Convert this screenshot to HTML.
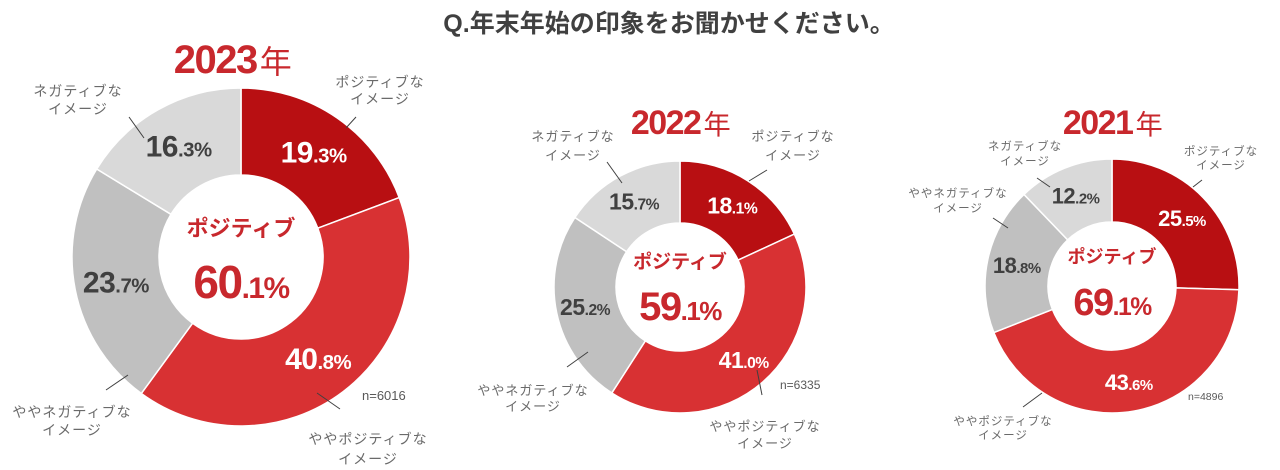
<!DOCTYPE html>
<html><head><meta charset="utf-8">
<style>
html,body{margin:0;padding:0;background:#fff;width:1280px;height:470px;overflow:hidden}
svg{display:block}
text{font-family:"Liberation Sans","Noto Sans CJK JP",sans-serif}
.cat{fill:#6a6a6a;font-weight:normal;letter-spacing:1px}
</style></head>
<body>
<svg id="chart" width="1280" height="470" viewBox="0 0 1280 470">
<text x="669" y="32" text-anchor="middle" font-size="25" font-weight="bold" fill="#404040">Q.年末年始の印象をお聞かせください。</text>
<g id="charts"></g>
</svg>
<script>
const years = ["2023", "2022", "2021"];
const categories = ["ポジティブなイメージ", "ややポジティブなイメージ", "ややネガティブなイメージ", "ネガティブなイメージ"];
const values2023 = [19.3, 40.8, 23.7, 16.3];
const values2022 = [18.1, 41.0, 25.2, 15.7];
const values2021 = [25.5, 43.6, 18.8, 12.2];
const positiveTotals = ["60.1", "59.1", "69.1"];
const sampleSizes = ["n=6016", "n=6335", "n=4896"];
const colors = ["#b80f12", "#d83133", "#c0c0c0", "#d9d9d9"];
const labelColors = ["#fff", "#fff", "#404040", "#404040"];

const layouts = [
  {cx:241, cy:257, r:169, ri:82, pct:30, yearSize:40, yearX:232, yearY:73, posY:236, posSize:22, bigY:298, bigSize:46, cat:14,
   cats:[[380,83,100],[368,440,460],[72,413,431],[78,92,110]],
   lines:[[346,128,356,117],[317,393,340,409],[106,390,128,375],[129,117,144,138]], n:[362,400]},
  {cx:680, cy:287, r:126, ri:64, pct:23, yearSize:34, yearX:680, yearY:134, posY:268, posSize:19, bigY:320, bigSize:40, cat:13,
   cats:[[793,137,156],[765,427,444],[533,391,407],[573,137,156]],
   lines:[[767,170,749,181],[757,370,762,395],[567,367,588,352],[607,162,622,183]], n:[780,389]},
  {cx:1112, cy:286, r:127, ri:64, pct:22, yearSize:34, yearX:1112, yearY:134, posY:263, posSize:18, bigY:315, bigSize:38, cat:11.5,
   cats:[[1221,151,165],[1003,421,435],[958,193,208],[1025,146,161]],
   lines:[[1202,180,1193,187],[1042,393,1023,407],[993,218,1008,228],[1037,178,1050,187]], n:[1188,400]}
];
const allValues = [values2023, values2022, values2021];
const NS = "http://www.w3.org/2000/svg";
const root = document.getElementById("charts");
function mk(tag, attrs, parent){const e=document.createElementNS(NS,tag);for(const k in attrs)e.setAttribute(k,attrs[k]);parent.appendChild(e);return e;}
function pt(cx,cy,r,a){return [cx+r*Math.sin(a), cy-r*Math.cos(a)];}

years.forEach((yr, ci) => {
  const L = layouts[ci], vals = allValues[ci];
  const g = mk("g", {}, root);
  
  
  const total = vals.reduce((a,b)=>a+b,0);
  let acc = 0;
  vals.forEach((v, i) => {
    const a0 = acc/total*2*Math.PI, a1 = (acc+v)/total*2*Math.PI; acc += v;
    const large = (a1-a0) > Math.PI ? 1 : 0;
    const p0=pt(L.cx,L.cy,L.r,a0), p1=pt(L.cx,L.cy,L.r,a1), q1=pt(L.cx,L.cy,L.ri,a1), q0=pt(L.cx,L.cy,L.ri,a0);
    const d = `M${p0} A${L.r},${L.r} 0 ${large} 1 ${p1} L${q1} A${L.ri},${L.ri} 0 ${large} 0 ${q0} Z`;
    const s = mk("path", {d:d, fill:colors[i], stroke:"#fff", "stroke-width":1.5}, g);
    
    
    const am = (a0+a1)/2, lp = pt(L.cx,L.cy,(L.r+L.ri)/2+2,am);
    const t = mk("text", {x:lp[0], y:lp[1]+L.pct*0.35, "text-anchor":"middle", "font-weight":"bold", fill:labelColors[i], "font-size":L.pct, "letter-spacing":"-0.5"}, g);
    
    
    const parts = v.toFixed(1).split(".");
    const t1 = mk("tspan", {}, t); t1.textContent = parts[0];
    const t2 = mk("tspan", {"font-size":L.pct*0.68}, t); t2.textContent = "." + parts[1] + "%";
    const c = L.cats[i], name = categories[i];
    const split = name.indexOf("イメージ");
    const c1 = mk("text", {x:c[0], y:c[1]+4, "text-anchor":"middle", "font-size":L.cat, class:"cat"}, g);
    
    
    c1.textContent = name.slice(0, split);
    const c2 = mk("text", {x:c[0], y:c[2]+4, "text-anchor":"middle", "font-size":L.cat, class:"cat"}, g);
    
    
    c2.textContent = name.slice(split);
    const ln = L.lines[i];
    const l = mk("line", {x1:ln[0], y1:ln[1], x2:ln[2], y2:ln[3], stroke:"#404040", "stroke-width":1}, g);
    
    
  });
  const ytx = mk("text", {x:L.yearX, y:L.yearY, "text-anchor":"middle", fill:"#c8282d", "font-size":L.yearSize, "font-weight":"bold", "letter-spacing":"-1.5"}, g);
  
  
  const y1 = mk("tspan", {}, ytx); y1.textContent = yr;
  const y2 = mk("tspan", {"font-weight":"normal", "font-size":L.yearSize*0.8, dx:"3"}, ytx); y2.textContent = "年";
  const pl = mk("text", {x:L.cx, y:L.posY, "text-anchor":"middle", fill:"#c8282d", "font-size":L.posSize, "font-weight":"bold"}, g);
  
  
  pl.textContent = "ポジティブ";
  const bp = mk("text", {x:L.cx, y:L.bigY, "text-anchor":"middle", fill:"#c8282d", "font-size":L.bigSize, "font-weight":"bold", "letter-spacing":"-1.5"}, g);
  
  
  const pp = positiveTotals[ci].split(".");
  const b1 = mk("tspan", {}, bp); b1.textContent = pp[0];
  const b2 = mk("tspan", {"font-size":L.bigSize*0.65}, bp); b2.textContent = "." + pp[1] + "%";
  const nt = mk("text", {x:L.n[0], y:L.n[1], "font-size":L.cat-1, fill:"#595959"}, g);
  
  
  nt.textContent = sampleSizes[ci];
});
</script>
</body></html>
